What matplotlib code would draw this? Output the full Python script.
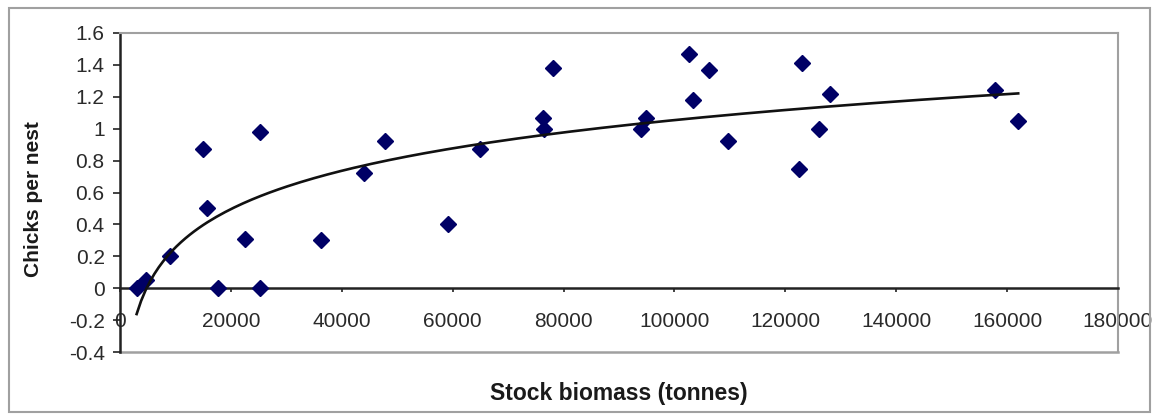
import numpy as np
import matplotlib.pyplot as plt
from matplotlib.patches import Rectangle

plt.rcParams['font.family'] = ['Liberation Sans', 'DejaVu Sans']

# datos: biomasa del stock (t) y pollos por nido
biomasa = [3000, 4700, 9000, 15000, 15700, 17700, 22500, 25200, 25200, 36200,
           44000, 47800, 59200, 64900, 76300, 76500, 78100, 94000, 94900,
           102700, 103400, 106300, 109700, 122500, 123000, 126100, 128100,
           157800, 162000]
pollos = [0.0, 0.05, 0.2, 0.87, 0.5, 0.0, 0.31, 0.98, 0.0, 0.30,
          0.72, 0.92, 0.40, 0.87, 1.07, 1.0, 1.38, 1.0, 1.07,
          1.47, 1.18, 1.37, 0.92, 0.75, 1.41, 1.0, 1.22,
          1.24, 1.05]

x_ticks = np.arange(0, 180001, 20000)
y_ticks = [-0.4, -0.2, 0, 0.2, 0.4, 0.6, 0.8, 1, 1.2, 1.4, 1.6]
y_labels = ['-0.4', '-0.2', '0', '0.2', '0.4', '0.6', '0.8', '1', '1.2', '1.4', '1.6']

# linea de tendencia logaritmica (como en Excel)
a, b = np.polyfit(np.log(biomasa), pollos, 1)
xs = np.linspace(min(biomasa), max(biomasa), 200)
ys = a * np.log(xs) + b

fig = plt.figure(figsize=(11.58, 4.16), dpi=100)
ax = fig.add_axes([120 / 1158, 1 - 352 / 416, 998 / 1158, 319 / 416])

ax.plot(biomasa, pollos, ls='none', marker='D', ms=7.8, color='#000066', zorder=3)
ax.plot(xs, ys, color='#111111', lw=1.9, zorder=4)

ax.set_xlim(0, 180000)
ax.set_ylim(-0.4, 1.6)
ax.set_xticks(x_ticks)
ax.set_xticklabels([str(v) for v in x_ticks])
ax.set_yticks(y_ticks)
ax.set_yticklabels(y_labels)

# eje x cruzando en y=0
ax.spines['bottom'].set_position(('data', 0))
ax.spines['bottom'].set_color('#222222')
ax.spines['bottom'].set_linewidth(1.8)
ax.spines['left'].set_color('#222222')
ax.spines['left'].set_linewidth(1.8)
ax.spines['top'].set_color('#a0a0a0')
ax.spines['top'].set_linewidth(1.5)
ax.spines['right'].set_color('#a0a0a0')
ax.spines['right'].set_linewidth(1.5)
ax.axhline(-0.4, color='#a0a0a0', lw=1.8, clip_on=False, zorder=1)

ax.tick_params(axis='x', direction='out', length=3, width=1.2, pad=14,
               labelsize=15, labelcolor='#2a2a2a', color='#222222')
ax.tick_params(axis='y', direction='out', length=5, width=1.2, pad=6,
               labelsize=15, labelcolor='#2a2a2a', color='#222222')

ax.set_xlabel('Stock biomass (tonnes)', fontsize=16.5, fontweight='bold', color='#1a1a1a')
ax.xaxis.set_label_coords(0.5, -0.095)
ax.xaxis.label.set_va('top')
ax.set_ylabel('Chicks per nest', fontsize=15, fontweight='bold', color='#1a1a1a')
ax.yaxis.set_label_coords(-0.077, 0.48)

# borde exterior del grafico
fig.patches.append(Rectangle((9 / 1158, 4 / 416), 1141 / 1158, 404 / 416,
                             transform=fig.transFigure, fill=False,
                             edgecolor='#a0a0a0', lw=1.5))

fig.savefig('out.png', dpi=100)
